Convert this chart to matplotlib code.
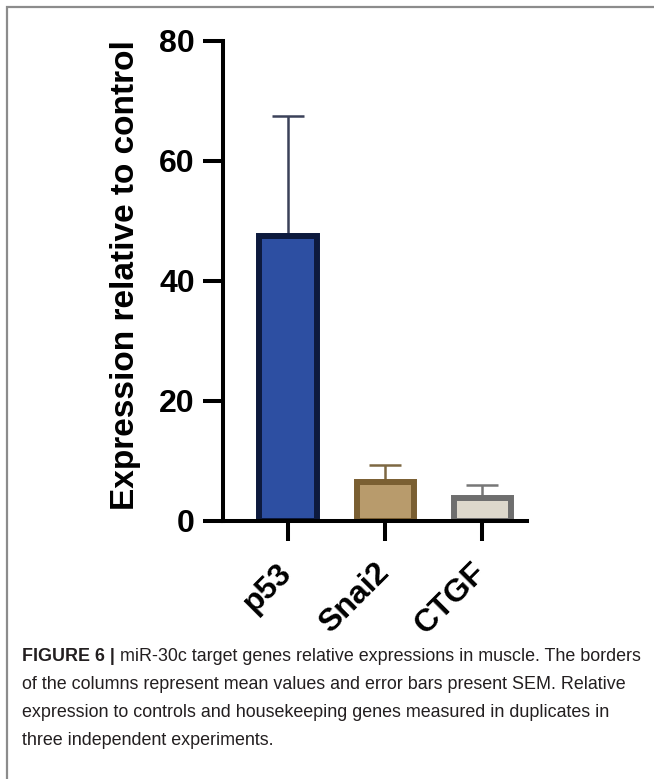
import matplotlib
matplotlib.use("Agg")
import matplotlib.pyplot as plt
from matplotlib.patches import Rectangle
from matplotlib.transforms import ScaledTranslation

# Дані
genes = ["p53", "Snai2", "CTGF"]
means = [47.5, 6.5, 3.9]
sem = [20.0, 2.8, 2.1]
fill_colors = ["#2d4fa2", "#b89b6c", "#ddd8cc"]
edge_colors = ["#0d1a3d", "#7a5f32", "#6e6e6e"]
err_colors = ["#3b4159", "#7d6843", "#777777"]
y_ticks = [0, 20, 40, 60, 80]

caption_bold = "FIGURE 6 |"
caption_lines = [
    " miR-30c target genes relative expressions in muscle. The borders",
    "of the columns represent mean values and error bars present SEM. Relative",
    "expression to controls and housekeeping genes measured in duplicates in",
    "three independent experiments.",
]

W, H = 654, 779
fig = plt.figure(figsize=(W / 100, H / 100), dpi=100)
plt.rcParams["font.family"] = ["Liberation Sans", "DejaVu Sans"]

# Рамка навколо рисунка
fig.patches.append(Rectangle((7 / W, -0.1), 1.2, 1 - 7 / H + 0.1, transform=fig.transFigure,
                             fill=False, edgecolor="#8c8c8c", linewidth=1.6))

ax = fig.add_axes([223 / W, 1 - 521 / H, (527 - 223) / W, (521 - 41) / H])
x = list(range(len(genes)))
for i in x:
    ax.bar(i, means[i], width=0.59, color=fill_colors[i], edgecolor=edge_colors[i],
           linewidth=4.3, zorder=2)
    ax.errorbar(i, means[i], yerr=[[0], [sem[i]]], fmt="none", ecolor=err_colors[i],
                elinewidth=1.8, capsize=11.8, capthick=1.8, zorder=1)

ax.set_xlim(-0.67, 2.46)
ax.set_ylim(0, 80)
ax.set_yticks(y_ticks)
ax.set_xticks(x)
ax.set_xticklabels(genes, rotation=45, ha="right", va="top")
for s in ["top", "right"]:
    ax.spines[s].set_visible(False)
for s in ["left", "bottom"]:
    ax.spines[s].set_linewidth(2.9)
ax.tick_params(axis="both", length=14.4, width=2.9, labelsize=23)
ax.tick_params(axis="y", pad=6)
ax.tick_params(axis="x", pad=12)
shift = ScaledTranslation(10 / 100, 0, fig.dpi_scale_trans)
for lab in ax.get_xticklabels():
    lab.set_fontweight("bold")
    lab.set_transform(lab.get_transform() + shift)
for lab in ax.get_yticklabels():
    lab.set_fontweight("bold")
ax.set_ylabel("Expression relative to control", fontsize=24, fontweight="bold")
ax.yaxis.set_label_coords(-0.27, 0.512)

# Підпис
fig.canvas.draw()
r = fig.canvas.get_renderer()
t = fig.text(22 / W, 1 - 661 / H, caption_bold, fontsize=12.9, fontweight="bold",
             color="#231f20", va="baseline")
bb = t.get_window_extent(renderer=r)
fig.text(bb.x1 / W, 1 - 661 / H, caption_lines[0], fontsize=12.9, color="#231f20", va="baseline")
for k, line in enumerate(caption_lines[1:], start=1):
    fig.text(22 / W, 1 - (661 + 28 * k) / H, line, fontsize=12.9, color="#231f20", va="baseline")

fig.savefig("out.png", dpi=100)
